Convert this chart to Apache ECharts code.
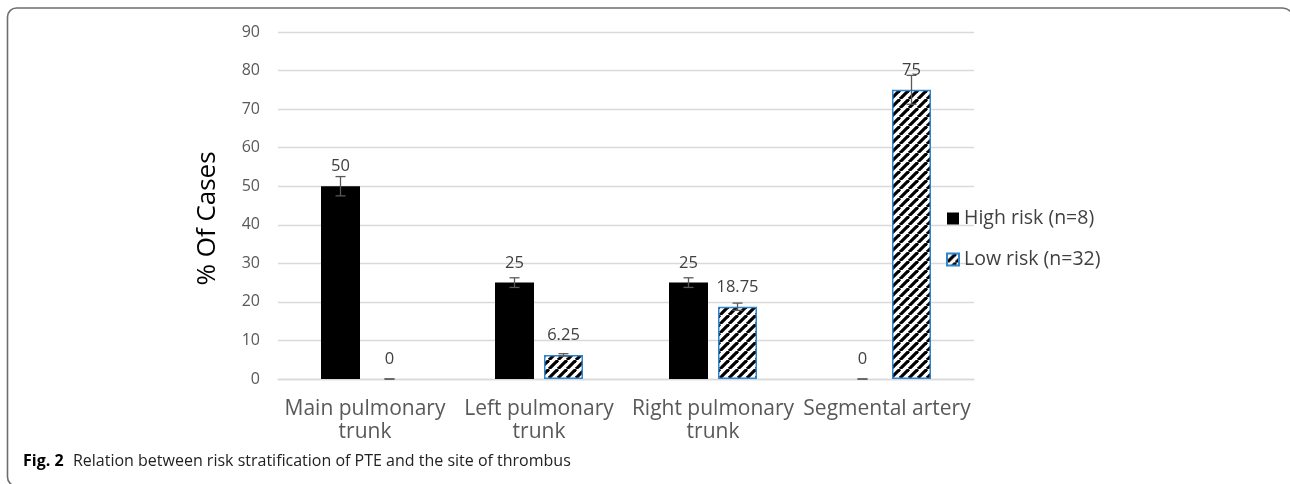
<!DOCTYPE html>
<html>
<head>
<meta charset="utf-8">
<script src="https://cdn.jsdelivr.net/npm/echarts@6/dist/echarts.min.js"></script>
<style>
  html, body { margin: 0; padding: 0; background: #fff; }
  #chart { width: 1290px; height: 484px; }
</style>
</head>
<body>
<div id="chart"></div>
<script>
// data
const categories = ['Main pulmonary\ntrunk', 'Left pulmonary\ntrunk', 'Right pulmonary\ntrunk', 'Segmental artery'];
const highRisk = [50, 25, 25, 0];
const lowRisk = [0, 6.25, 18.75, 75];
// error bars (+/-), 5% of each value
const highErr = [2.5, 1.25, 1.25, 0];
const lowErr = [0, 0.3125, 0.9375, 3.75];
const seriesNames = ['High risk (n=8)', 'Low risk (n=32)'];

const FONT = '"Open Sans", "Noto Sans", sans-serif';
const BAR_W = 39;
const BAR_GAP = 10;

// diagonal hatch for the low risk bars
function makeHatch() {
    const s = 9;
    const c = document.createElement('canvas');
    c.width = s; c.height = s;
    const ctx = c.getContext('2d');
    ctx.fillStyle = '#fff';
    ctx.fillRect(0, 0, s, s);
    ctx.strokeStyle = '#000';
    ctx.lineWidth = 3.2;
    [-s, 0, s].forEach(k => {
        ctx.beginPath();
        ctx.moveTo(k, s);
        ctx.lineTo(k + s, 0);
        ctx.stroke();
    });
    return c;
}

function errorSeries(values, errs, side) {
    return {
        type: 'custom',
        z: 5,
        silent: true,
        data: values.map((v, i) => [i, v, errs[i]]),
        renderItem(params, api) {
            const i = api.value(0), v = api.value(1), e = api.value(2);
            const off = side * (BAR_W + BAR_GAP) / 2;
            const top = api.coord([i, v + e]);
            const bot = api.coord([i, v - e]);
            const x = top[0] + off;
            const cap = 5;
            const style = { stroke: '#595959', lineWidth: 1.3 };
            return {
                type: 'group',
                children: [
                    { type: 'line', shape: { x1: x, y1: top[1], x2: x, y2: bot[1] }, style },
                    { type: 'line', shape: { x1: x - cap, y1: top[1], x2: x + cap, y2: top[1] }, style },
                    { type: 'line', shape: { x1: x - cap, y1: bot[1], x2: x + cap, y2: bot[1] }, style }
                ]
            };
        }
    };
}

const chart = echarts.init(document.getElementById('chart'));
const hatch = { image: makeHatch(), repeat: 'repeat' };

const labelStyle = {
    show: true,
    position: 'top',
    distance: 11,
    color: '#404040',
    fontSize: 16.5,
    fontFamily: FONT
};

// zero-height bars draw no outline
const lowData = lowRisk.map(v => v === 0 ? { value: v, itemStyle: { borderWidth: 0 } } : v);

chart.setOption({
    animation: false,
    textStyle: { fontFamily: FONT },
    title: {
        left: 23,
        top: 452,
        padding: 0,
        text: '{b|Fig. 2}  {n|Relation between risk stratification of PTE and the site of thrombus}',
        textStyle: {
            fontWeight: 'normal',
            rich: {
                b: { fontWeight: 'bold', fontSize: 16, color: '#000', fontFamily: FONT },
                n: { fontWeight: 'normal', fontSize: 16, color: '#222', fontFamily: FONT }
            }
        }
    },
    graphic: [{
        type: 'rect',
        silent: true,
        z: -10,
        shape: { x: 7.5, y: 8, width: 1286, height: 478, r: [9, 11, 0, 9] },
        style: { fill: 'none', stroke: '#6e6e6e', lineWidth: 1.6 }
    }],
    legend: {
        orient: 'vertical',
        left: 941,
        top: 202,
        itemWidth: 12,
        itemHeight: 12,
        itemGap: 18,
        icon: 'rect',
        textStyle: { fontSize: 19.5, color: '#404040', fontFamily: FONT, lineHeight: 23 },
        data: seriesNames
    },
    grid: { left: 278, right: 316, top: 32, bottom: 105 },
    xAxis: {
        type: 'category',
        data: categories,
        axisLine: { lineStyle: { color: '#d9d9d9', width: 1.3 } },
        axisTick: { show: false },
        axisLabel: { color: '#595959', fontSize: 21, lineHeight: 23, margin: 19, interval: 0 }
    },
    yAxis: {
        type: 'value',
        min: 0,
        max: 90,
        interval: 10,
        name: '% Of Cases',
        nameLocation: 'middle',
        nameGap: 57,
        nameTextStyle: { fontSize: 26, color: '#000', padding: [0, 26, 0, 0] },
        axisLine: { show: false },
        axisTick: { show: false },
        splitLine: { lineStyle: { color: '#d9d9d9', width: 1.3 } },
        axisLabel: { color: '#595959', fontSize: 16, margin: 18 }
    },
    series: [
        {
            name: seriesNames[0],
            type: 'bar',
            barWidth: BAR_W,
            barGap: (BAR_GAP / BAR_W * 100) + '%',
            data: highRisk,
            itemStyle: { color: '#000' },
            label: labelStyle
        },
        {
            name: seriesNames[1],
            type: 'bar',
            barWidth: BAR_W,
            data: lowData,
            itemStyle: { color: hatch, borderColor: '#2e86d1', borderWidth: 1.5 },
            label: labelStyle
        },
        errorSeries(highRisk, highErr, -1),
        errorSeries(lowRisk, lowErr, 1)
    ]
});
</script>
</body>
</html>
